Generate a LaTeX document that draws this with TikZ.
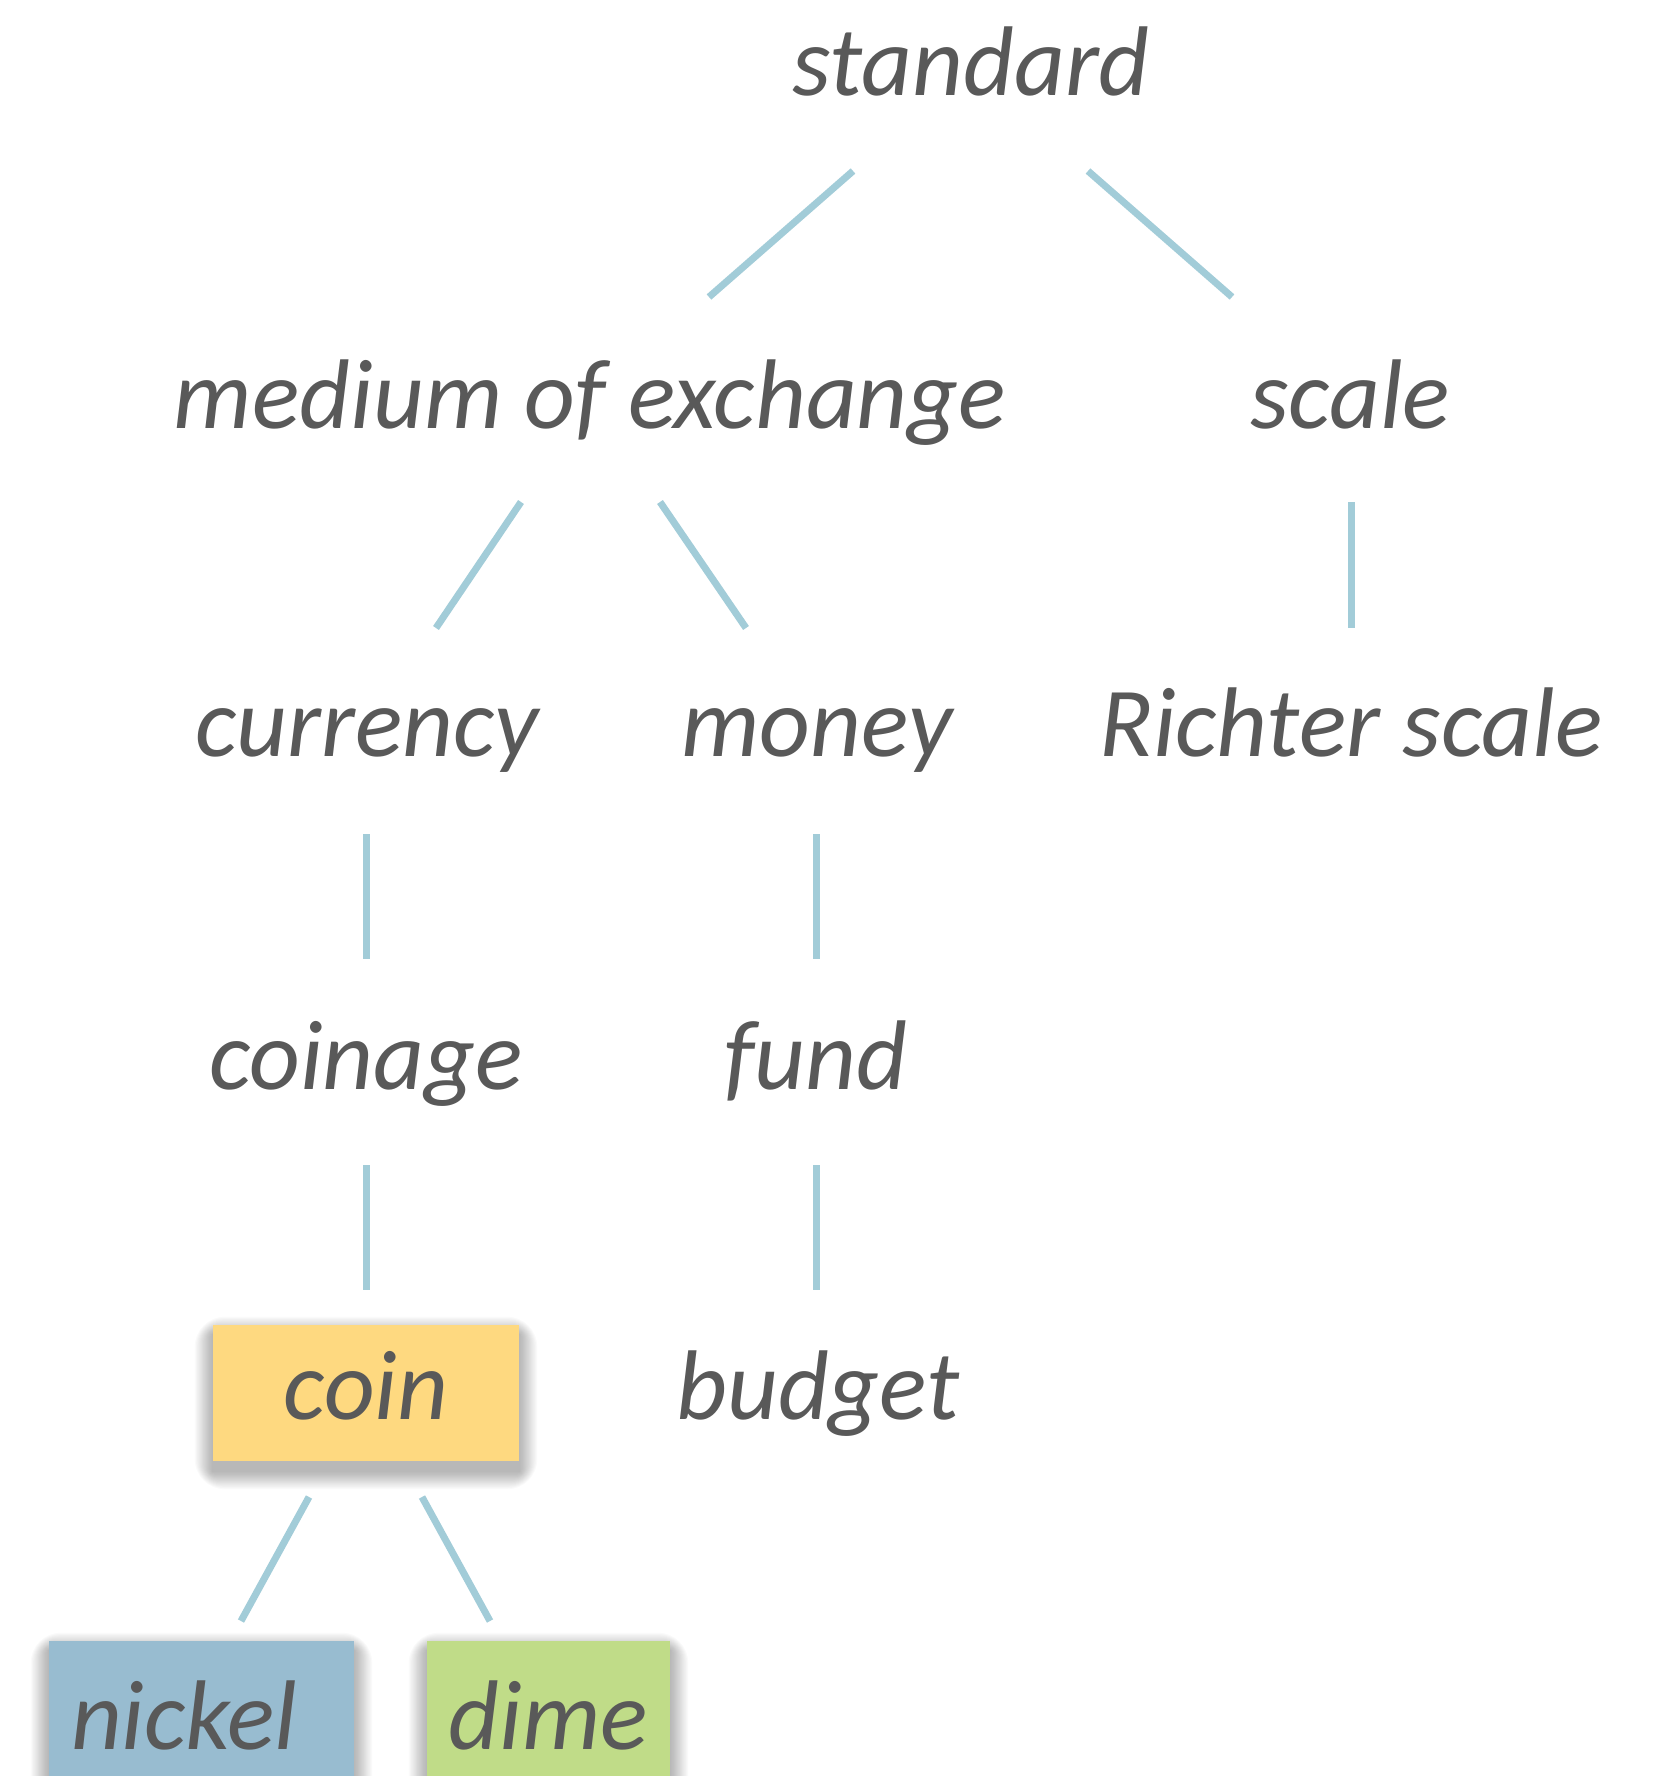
\documentclass[tikz,border=0pt]{standalone}
\usepackage{fontspec}
\setmainfont{Carlito}
\usetikzlibrary{calc}
\definecolor{txt}{HTML}{595959}
\definecolor{edgec}{HTML}{A2CCD8}
\definecolor{coinc}{HTML}{FED980}
\definecolor{nickelc}{HTML}{98BCD0}
\definecolor{dimec}{HTML}{C0DC88}
\pgfdeclarelayer{bg}
\pgfdeclarelayer{shade}
\pgfsetlayers{bg,shade,main}
\newcommand{\softshadow}[1]{%
  \begin{pgfonlayer}{shade}
    \foreach \r in {2,4,...,30} {
      \fill[black, opacity=0.02, rounded corners=\r pt]
        ($(#1.north west)+(-\r*0.6,-\r*0.6+10)$) rectangle ($(#1.south east)+(\r*0.6,\r*0.6+10)$);
    }
  \end{pgfonlayer}}
\begin{document}
\begin{tikzpicture}[x=1pt,y=-1pt,
  word/.style={font=\fontsize{99}{99}\selectfont\itshape, text=txt, inner sep=0pt, anchor=base},
  link/.style={draw=edgec, line width=7pt},
  box/.style={word, anchor=center, inner sep=0pt}]
\useasboundingbox (0,0) rectangle (1660,1776);
\begin{pgfonlayer}{bg}
\fill[white] (0,0) rectangle (1660,1776);
\end{pgfonlayer}
% words
\node[word] (s) at (971,96) {standard};
\node[word] (m) at (590,428) {medium of exchange};
\node[word] (sc) at (1350,428) {scale};
\node[word] (cur) at (367,756) {currency};
\node[word] (mon) at (817,756) {money};
\node[word] (ri) at (1351,756) {Richter scale};
\node[word] (coinage) at (366,1089) {coinage};
\node[word] (fund) at (816,1089) {fund};
\node[word] (bud) at (818,1419) {budget};
% boxes
\node[box, fill=coinc, minimum width=306pt, minimum height=136pt, text height=60pt, text depth=8pt] (coin) at (366,1393) {coin};
\node[box, fill=nickelc, minimum width=305pt, minimum height=136pt, text height=80pt, text depth=0pt,
      inner xsep=22pt, text width=261pt, align=left] (nickel) at (201.5,1709) {nickel};
\node[box, fill=dimec, minimum width=243pt, minimum height=136pt, text height=80pt, text depth=0pt] (dime) at (548.5,1709) {dime};
\softshadow{coin}
\softshadow{nickel}
\softshadow{dime}
% connectors
\draw[link] ($(s.base)+(-118,75)$) -- ($(m.base)+(119,-131)$);
\draw[link] ($(s.base)+(117,75)$) -- ($(sc.base)+(-118,-131)$);
\draw[link] ($(m.base)+(-69,74)$) -- ($(cur.base)+(69,-128)$);
\draw[link] ($(m.base)+(70,74)$) -- ($(mon.base)+(-71,-128)$);
\draw[link] ($(sc.base)+(1,74)$) -- ($(ri.base)+(0,-128)$);
\draw[link] ($(cur.base)+(-1,78)$) -- ($(coinage.base)+(0,-130)$);
\draw[link] ($(mon.base)+(-1,78)$) -- ($(fund.base)+(0,-130)$);
\draw[link] ($(coinage.base)+(0,76)$) -- ($(coin.base)+(0,-129)$);
\draw[link] ($(fund.base)+(0,76)$) -- ($(bud.base)+(-2,-129)$);
\draw[link] ($(coin.base)+(-57,78)$) -- ($(nickel.base)+(39.5,-128)$);
\draw[link] ($(coin.base)+(56,78)$) -- ($(dime.base)+(-58.5,-128)$);
\end{tikzpicture}
\end{document}
